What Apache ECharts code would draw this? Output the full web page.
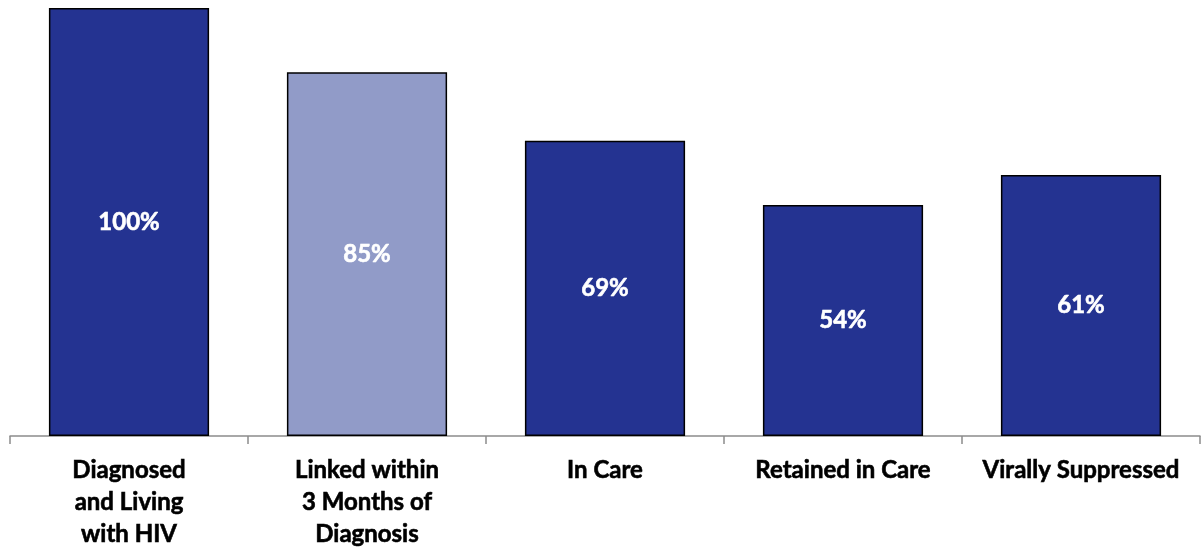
<!DOCTYPE html>
<html>
<head>
<meta charset="utf-8">
<script src="https://cdn.jsdelivr.net/npm/echarts@6/dist/echarts.min.js"></script>
<style>
  html, body { margin: 0; padding: 0; background: #fff; }
  #chart { width: 1201px; height: 547px; }
</style>
</head>
<body>
<div id="chart"></div>
<script>
// HIV care continuum stages and percentages
const categories = [
  'Diagnosed\nand Living\nwith HIV',
  'Linked within\n3 Months of\nDiagnosis',
  'In Care',
  'Retained in Care',
  'Virally Suppressed'
];
const values = [100, 85, 69, 54, 61];
const barColors = ['#243391', '#919bc8', '#243391', '#243391', '#243391'];

const chart = echarts.init(document.getElementById('chart'));
chart.setOption({
  animation: false,
  grid: { left: 10, right: 1, top: 8, bottom: 111, containLabel: false, outerBoundsMode: 'none' },
  xAxis: {
    type: 'category',
    data: categories,
    axisLine: { lineStyle: { color: '#8c8c8c', width: 1.5 } },
    axisTick: { show: true, length: 8, lineStyle: { color: '#8c8c8c', width: 1.5 } },
    axisLabel: {
      interval: 0,
      margin: 18,
      fontFamily: 'Lato',
      fontWeight: 'bold',
      fontSize: 24,
      lineHeight: 32,
      color: '#000',
      textBorderColor: '#000',
      textBorderWidth: 0.6
    }
  },
  yAxis: {
    type: 'value',
    min: 0,
    max: 100,
    show: false,
    splitLine: { show: false }
  },
  series: [{
    type: 'bar',
    barWidth: '67.3%',
    data: values.map((v, i) => ({
      value: v,
      itemStyle: { color: barColors[i] }
    })),
    itemStyle: { borderColor: '#000', borderWidth: 1.5 },
    label: {
      show: true,
      position: 'inside',
      formatter: '{c}%',
      fontFamily: 'Lato',
      fontWeight: 'bold',
      fontSize: 24,
      color: '#fff',
      textBorderColor: '#fff',
      textBorderWidth: 0.6
    }
  }]
});
</script>
</body>
</html>
